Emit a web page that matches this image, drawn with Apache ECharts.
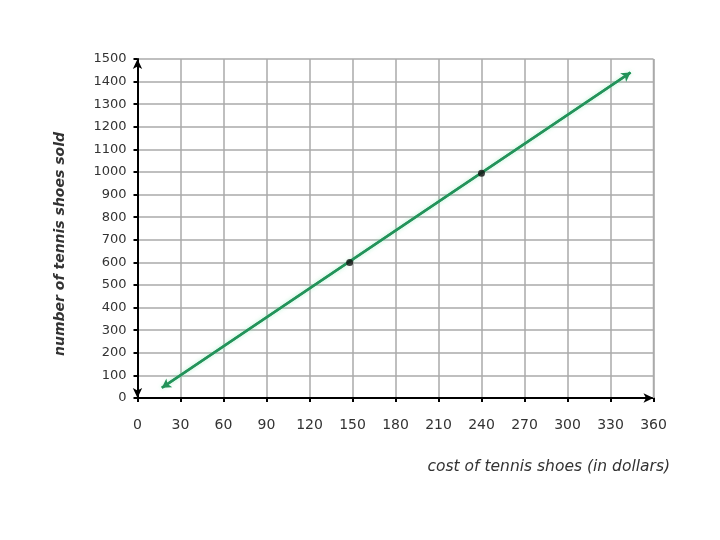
<!DOCTYPE html>
<html>
<head>
<meta charset="utf-8">
<script src="https://cdn.jsdelivr.net/npm/echarts@6/dist/echarts.min.js"></script>
<style>
  html, body { margin: 0; padding: 0; background: #fff; }
  #chart { width: 720px; height: 540px; }
</style>
</head>
<body>
<div id="chart"></div>
<script>
// x range of the arrowed line (cost) and its y values (shoes sold)
const lineX = [17, 344]
const lineY = [45, 1440]
// the two marked points
const pointX = [148, 240]
const pointY = [600, 995]
const xTicks = [0, 30, 60, 90, 120, 150, 180, 210, 240, 270, 300, 330, 360]
const yTicks = [0, 100, 200, 300, 400, 500, 600, 700, 800, 900, 1000, 1100, 1200, 1300, 1400, 1500]

const chart = echarts.init(document.getElementById('chart'))

const option = {
  animation: false,
  grid: { left: 137.5, right: 66.5, top: 59, bottom: 142 },
  xAxis: {
    type: 'value',
    min: xTicks[0],
    max: xTicks[xTicks.length - 1],
    interval: 30,
    axisLine: { lineStyle: { color: '#000', width: 2 }, symbol: ['none', 'arrow'], symbolSize: [7, 10] },
    axisTick: { show: true, length: 4, lineStyle: { color: '#000', width: 2 } },
    axisLabel: { margin: 20, fontFamily: 'DejaVu Sans', fontSize: 14, color: '#333', formatter: v => String(v) },
    splitLine: { show: true, lineStyle: { color: '#aaa', width: 1.5 } }
  },
  yAxis: {
    type: 'value',
    min: yTicks[0],
    max: yTicks[yTicks.length - 1],
    interval: 100,
    axisLine: { lineStyle: { color: '#000', width: 2 }, symbol: ['arrow', 'arrow'], symbolSize: [7, 10] },
    axisTick: { show: true, length: 4, lineStyle: { color: '#000', width: 2 } },
    axisLabel: { margin: 11, fontFamily: 'DejaVu Sans', fontSize: 13, color: '#333', formatter: v => String(v) },
    splitLine: { show: true, lineStyle: { color: '#aaa', width: 1.5 } }
  },
  graphic: [
    {
      type: 'rect', silent: true, z: 1,
      shape: { x: 653.5, y: 59, width: 0, height: 339 },
      style: { stroke: '#aaa', lineWidth: 1.5, fill: null }
    },
    {
      type: 'text', right: 50, top: 459,
      style: { text: 'cost of tennis shoes (in dollars)', font: 'italic 15.5px "DejaVu Sans"', fill: '#333' }
    },
    {
      type: 'text', x: 60, y: 244, rotation: Math.PI / 2,
      style: { text: 'number of tennis shoes sold', font: 'italic bold 14px "DejaVu Sans"', fill: '#333', align: 'center', verticalAlign: 'middle' }
    }
  ],
  series: [
    {
      type: 'line',
      data: lineX.map((x, i) => [x, lineY[i]]),
      showSymbol: false,
      lineStyle: { color: '#23935a', width: 2.5, shadowColor: 'rgba(120,230,170,0.6)', shadowBlur: 4 },
      markLine: {
        silent: true,
        symbol: ['arrow', 'arrow'],
        symbolSize: [8, 9],
        label: { show: false },
        lineStyle: { color: '#23935a', width: 2.5, type: 'solid' },
        data: [[{ coord: [lineX[0], lineY[0]] }, { coord: [lineX[1], lineY[1]] }]]
      }
    },
    {
      type: 'scatter',
      data: pointX.map((x, i) => [x, pointY[i]]),
      symbolSize: 7,
      itemStyle: { color: '#111' },
      z: 5
    }
  ]
}
chart.setOption(option)
</script>
</body>
</html>
